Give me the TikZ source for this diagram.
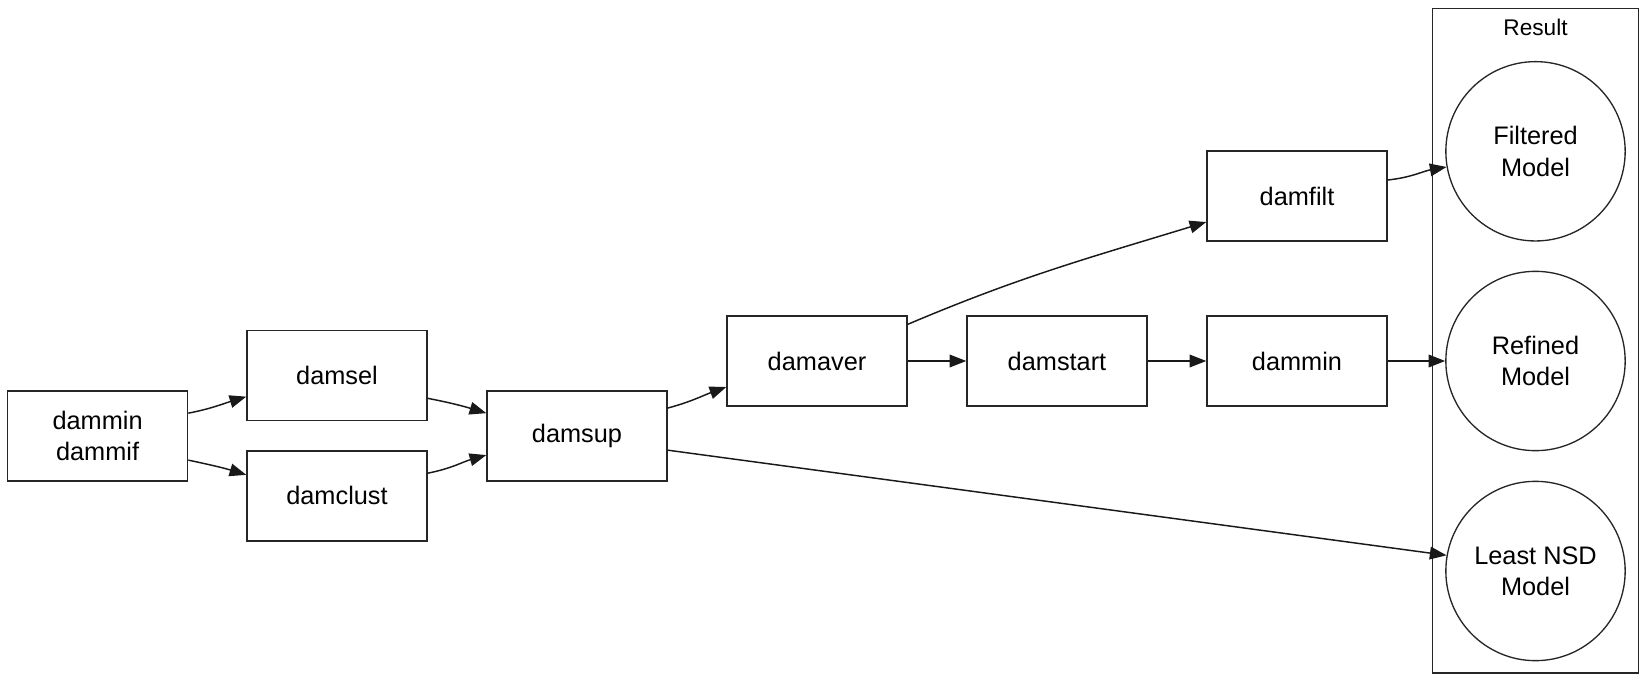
\documentclass[tikz,border=0pt]{standalone}
\usepackage{fontspec}
\setmainfont{Liberation Sans}
\usetikzlibrary{arrows.meta, positioning}

\begin{document}
\begin{tikzpicture}[
  x=0.75pt, y=-0.75pt,
  tool/.style={rectangle, draw=black!85, line width=1.1pt, minimum width=135pt, minimum height=67.5pt, align=center, inner sep=0pt, font=\fontsize{19}{23}\selectfont},
  model/.style={circle, draw=black!85, line width=1pt, minimum size=134.5pt, align=center, inner sep=0pt, font=\fontsize{19}{23.5}\selectfont},
  cluster/.style={rectangle, draw=black!85, line width=1.1pt, minimum width=154.5pt, minimum height=498.5pt, inner sep=0pt},
  edge/.style={-{Triangle[length=12.5pt, width=9.5pt]}, line width=1.1pt, draw=black!90}
]
  \useasboundingbox (0,0) rectangle (1649,684);

  % Result cluster
  \node[cluster] (result) at (1535.3,340.8) {};
  \node[font=\fontsize{17}{20}\selectfont] (resultlabel) at (1535.5,27) {Result};

  % Tools
  \node[tool] (damminin) at (97.6,435.8) {dammin\\dammif};
  \node[tool] (damsel) at (337,375.7) {damsel};
  \node[tool] (damclust) at (337,495.8) {damclust};
  \node[tool] (damsup) at (577,435.8) {damsup};
  \node[tool] (damaver) at (817,361) {damaver};
  \node[tool] (damstart) at (1057,361) {damstart};
  \node[tool] (dammin) at (1297,361) {dammin};
  \node[tool] (damfilt) at (1297,196) {damfilt};

  % Models
  \node[model] (filtered) at (1535.5,151.3) {Filtered\\Model};
  \node[model] (refined) at (1535.5,361) {Refined\\Model};
  \node[model] (leastnsd) at (1535.5,571) {Least NSD\\Model};

  % Edges
  \draw[edge] (damminin.14.6) to[out=11, in=197] (damsel.193.5);
  \draw[edge] (damminin.-15) to[out=-12, in=163] (damclust.167);
  \draw[edge] (damsel.-14.7) to[out=-11, in=163] (damsup.166.6);
  \draw[edge] (damclust.14.6) to[out=11, in=196] (damsup.192.5);
  \draw[edge] (damsup.17.6) to[out=15, in=200] (damaver.196.7);
  \draw[edge] (damsup.-9) -- (leastnsd.170.9);
  \draw[edge] (damaver.22.3) to[out=23, in=197] (damfilt.196.7);
  \draw[edge] (damaver.east) -- (damstart.west);
  \draw[edge] (damstart.east) -- (dammin.west);
  \draw[edge] (dammin.east) -- (refined.west);
  \draw[edge] (damfilt.10.5) to[out=6, in=190] (filtered.190.8);
\end{tikzpicture}
\end{document}
